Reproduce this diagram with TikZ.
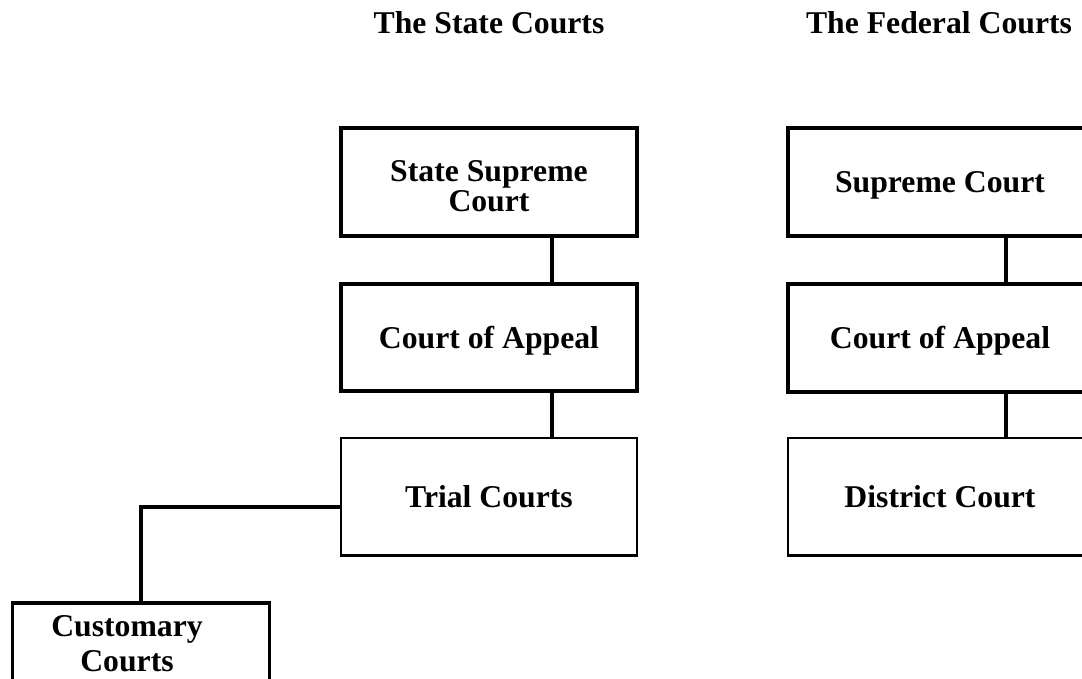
\documentclass[tikz,border=0pt]{standalone}
\usepackage{fontspec}
\setmainfont{Liberation Serif}
\begin{document}
\begin{tikzpicture}[x=1pt,y=-1pt,
  boxthick/.style={draw,line width=3.6pt,rectangle,inner sep=0pt,minimum width=296pt,
     font=\fontsize{31.7}{28.5}\selectfont\bfseries,align=center},
  boxthin/.style={boxthick,line width=2.4pt},
  oneline/.style={text height=21.5pt,text depth=0pt},
  conn/.style={line width=4pt},
  twoline/.style={align=center,anchor=base,inner sep=0pt},
  title/.style={font=\fontsize{31.7}{28.5}\selectfont\bfseries,anchor=base,inner sep=0pt}]
\useasboundingbox (0,0) rectangle (1082,678);
\clip (0,0) rectangle (1082,678);
% titles
\node[title] (tstate) at (489,33) {The State Courts};
\node[title] (tfed) at (939,33) {The Federal Courts};
% state column
\node[boxthick,minimum height=108pt] (ssc) at (489,182) {};
\node[twoline,font=\fontsize{31.7}{29.5}\selectfont\bfseries] (ssctext) at (489,211) {State Supreme\\Court};
\node[boxthick,oneline,minimum height=107pt] (sca) at (489,337.5) {Court of Appeal};
\node[boxthin,oneline,minimum height=117.5pt] (trial) at (489,496.75) {Trial Courts};
% federal column
\node[boxthick,oneline,minimum width=304pt,minimum height=108pt] (fsc) at (940,182) {Supreme Court};
\node[boxthick,oneline,minimum width=304pt,minimum height=108pt] (fca) at (940,338) {Court of Appeal};
\node[boxthin,oneline,minimum width=304pt,minimum height=117.5pt] (fdc) at (940,496.75) {District Court};
% customary
\node[boxthick,minimum width=257pt,minimum height=100pt] (cust) at (141,653) {};
\node[twoline,font=\fontsize{31.7}{35}\selectfont\bfseries] (custtext) at (127,671.7) {Customary\\Courts};
% connectors
\draw[conn] ([xshift=62.7pt]ssc.south) -- ([xshift=62.7pt]sca.north);
\draw[conn] ([xshift=62.7pt]sca.south) -- ([xshift=62.7pt]trial.north);
\draw[conn] ([xshift=66pt]fsc.south) -- ([xshift=66pt]fca.north);
\draw[conn] ([xshift=66pt]fca.south) -- ([xshift=66pt]fdc.north);
\draw[conn] ([yshift=-10pt]trial.west) -| (cust.north);
\end{tikzpicture}
\end{document}
